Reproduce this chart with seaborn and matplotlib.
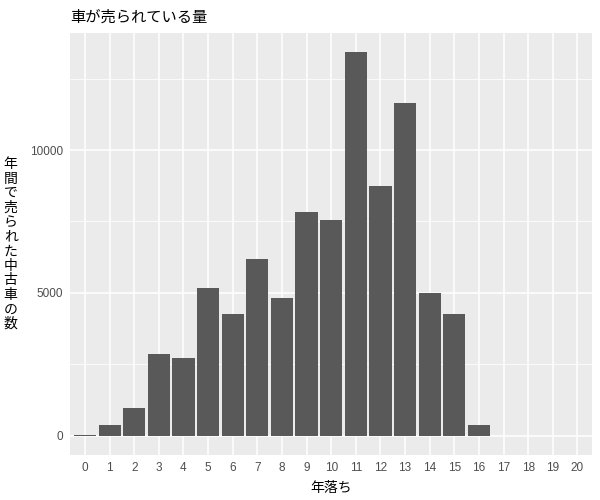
import seaborn as sns
import pandas as pd
import numpy as np
import matplotlib.pyplot as plt

# 年落ち (age of car, years) and how many were sold
ages = [str(i) for i in range(17)]
counts = [35, 385, 980, 2875, 2735, 5190, 4275, 6205, 4840, 7815,
          7535, 13425, 8725, 11635, 5010, 4275, 385]
age_levels = [str(i) for i in range(21)]

title = '車が売られている量'
xlabel = '年落ち'
ylabel = '年間で売られた中古車 の数'
yticks = [0, 5000, 10000]

df = pd.DataFrame({'age': ages, 'count': counts})

sns.set_theme(style='darkgrid')
plt.rcParams['font.family'] = ['Noto Sans CJK JP', 'DejaVu Sans']

fig = plt.figure(figsize=(6, 5), dpi=100)
ax = fig.add_axes([0.117, 0.09, 0.87, 0.844])
ax.set_facecolor('#EBEBEB')

sns.barplot(data=df, x='age', y='count', order=age_levels, color='#595959',
            saturation=1, width=0.9, linewidth=0, ax=ax)

ax.set_xlim(-0.6, 20.6)
top = max(counts)
ax.set_ylim(-0.05 * top, top * 1.05)
ax.set_yticks(yticks)
ax.set_yticks([2500, 7500, 12500], minor=True)
ax.grid(which='major', color='white', linewidth=1.1)
ax.grid(which='minor', axis='y', color='white', linewidth=0.55)
ax.set_axisbelow(True)
for s in ax.spines.values():
    s.set_visible(False)

ax.tick_params(axis='both', which='major', length=3, width=0.8, color='#333333',
               labelsize=8.5, labelcolor='#4D4D4D', pad=2)
ax.tick_params(axis='y', which='minor', length=0)
for lab in ax.get_xticklabels() + ax.get_yticklabels():
    lab.set_family(['Liberation Sans', 'DejaVu Sans'])

ax.set_xlabel(xlabel, fontsize=10, color='black', labelpad=5)
ax.set_ylabel('\n'.join(ylabel.replace(' ', '')), rotation=0, fontsize=10,
              color='black', va='center', ha='center', linespacing=1.05,
              labelpad=14)
ax.set_title(title, loc='left', fontsize=11, color='black', pad=8)

fig.savefig('out.png', dpi=100)
